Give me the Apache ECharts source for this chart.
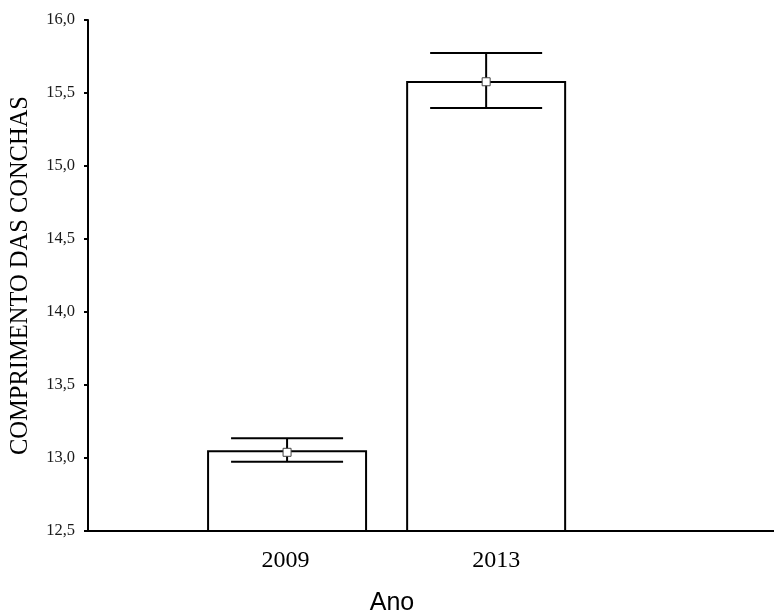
<!DOCTYPE html>
<html>
<head>
<meta charset="utf-8">
<script src="https://cdn.jsdelivr.net/npm/echarts@6/dist/echarts.min.js"></script>
<style>
  html, body { margin: 0; padding: 0; background: #fff; }
  #chart { width: 774px; height: 615px; }
</style>
</head>
<body>
<div id="chart"></div>
<script>
// data
const years = ['2009', '2013'];
const yearPos = [1, 2];
const barTops = [13.053, 15.582];
const means = [13.039, 15.577];
const upper = [13.135, 15.774];
const lower = [12.975, 15.397];
const yTicks = ['12,5', '13,0', '13,5', '14,0', '14,5', '15,0', '15,5', '16,0'];

const chart = echarts.init(document.getElementById('chart'));

const serif = 'Liberation Serif';

const option = {
  animation: false,
  backgroundColor: '#fff',
  title: {
    text: 'Ano',
    left: 387,
    top: 586,
    textAlign: 'center',
    textStyle: { fontFamily: 'Liberation Sans', fontSize: 25, fontWeight: 'normal', color: '#000' }
  },
  grid: { left: 87, right: 0, top: 20, bottom: 84 },
  xAxis: {
    type: 'value',
    min: 0,
    max: 3.446,
    interval: 1,
    splitLine: { show: false },
    axisTick: { show: false },
    axisLine: { lineStyle: { color: '#000', width: 2 } },
    axisLabel: {
      margin: 18,
      showMaxLabel: false,
      formatter: function (v) {
        const i = yearPos.indexOf(v);
        if (i === 0) return '{a|' + years[0] + '}';
        if (i === 1) return '{b|' + years[1] + '}';
        return '';
      },
      rich: {
        a: { fontFamily: serif, fontSize: 24, color: '#000', padding: [0, 3, 0, 0] },
        b: { fontFamily: serif, fontSize: 24, color: '#000', padding: [0, 0, 0, 20] }
      }
    }
  },
  yAxis: {
    type: 'value',
    min: 12.5,
    max: 16,
    interval: 0.5,
    name: 'COMPRIMENTO DAS CONCHAS',
    nameLocation: 'middle',
    nameGap: 55,
    nameTextStyle: { fontFamily: serif, fontSize: 24.5, color: '#000' },
    splitLine: { show: false },
    axisLine: { show: true, lineStyle: { color: '#000', width: 2 } },
    axisTick: { show: true, length: 4, lineStyle: { color: '#000', width: 2 } },
    axisLabel: {
      margin: 13,
      fontFamily: serif,
      fontSize: 16.5,
      color: '#1a1a1a',
      formatter: function (v) {
        return yTicks[Math.round((v - 12.5) / 0.5)];
      }
    }
  },
  series: [
    {
      type: 'bar',
      barWidth: 160,
      data: yearPos.map((x, i) => [x, barTops[i]]),
      itemStyle: { color: '#fff', borderColor: '#000', borderWidth: 2 }
    },
    {
      type: 'custom',
      data: yearPos.map((x, i) => [x, lower[i], upper[i]]),
      renderItem: function (params, api) {
        const x = api.value(0);
        const lo = api.coord([x, api.value(1)]);
        const hi = api.coord([x, api.value(2)]);
        const half = 56;
        const style = { stroke: '#000', lineWidth: 2 };
        return {
          type: 'group',
          children: [
            { type: 'line', shape: { x1: hi[0], y1: hi[1], x2: lo[0], y2: lo[1] }, style: style },
            { type: 'line', shape: { x1: hi[0] - half, y1: hi[1], x2: hi[0] + half, y2: hi[1] }, style: style },
            { type: 'line', shape: { x1: lo[0] - half, y1: lo[1], x2: lo[0] + half, y2: lo[1] }, style: style }
          ]
        };
      },
      z: 3
    },
    {
      type: 'scatter',
      symbol: 'rect',
      symbolSize: 8,
      data: yearPos.map((x, i) => [x, means[i]]),
      itemStyle: { color: '#fff', borderColor: '#444', borderWidth: 1, opacity: 1 },
      z: 4
    }
  ]
};

chart.setOption(option);
</script>
</body>
</html>
